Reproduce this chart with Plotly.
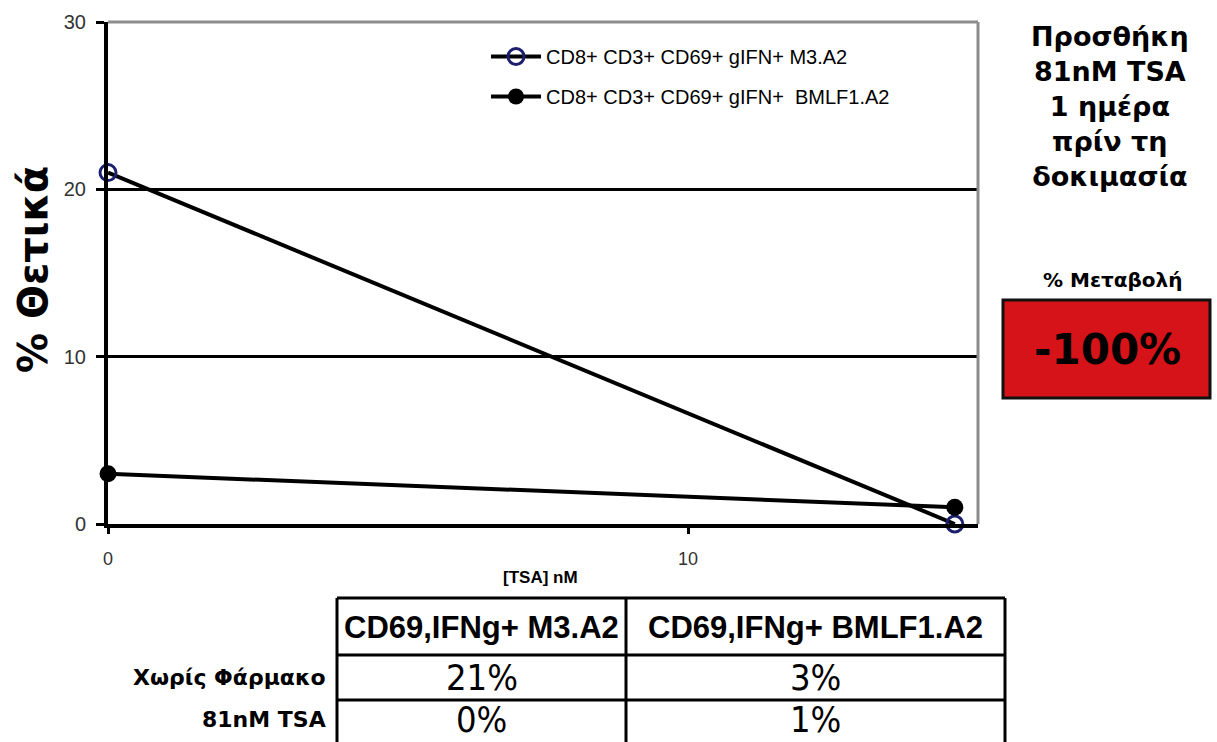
import plotly.graph_objects as go

# --- data -------------------------------------------------------------
tsa_nm = [0, 14.6]                      # x positions of the two conditions
m3_pct = [21, 0]                        # CD8+ CD3+ CD69+ gIFN+ M3.A2
bmlf1_pct = [3, 1]                      # CD8+ CD3+ CD69+ gIFN+ BMLF1.A2
series_names = ["CD8+ CD3+ CD69+ gIFN+ M3.A2", "CD8+ CD3+ CD69+ gIFN+  BMLF1.A2"]
table_cols = ["CD69,IFNg+ M3.A2", "CD69,IFNg+ BMLF1.A2"]
table_rows = ["Χωρίς Φάρμακο", "81nM TSA"]
y_ticks = [0, 10, 20, 30]
x_ticks = [0, 10]

change_pct = round((m3_pct[1] - m3_pct[0]) / m3_pct[0] * 100)

# --- page geometry -----------------------------------------------------
W, H = 1217, 742
L, R, T, B = 108, 239, 22, 218
PW, PH = W - L - R, H - T - B


def px(x):
    return (x - L) / PW


def py(y):
    return (H - B - y) / PH


ARIAL = "Liberation Sans, Arial, sans-serif"
VERD = "DejaVu Sans, Verdana, sans-serif"
NARROW = "Liberation Sans Narrow, Arial Narrow, Liberation Sans, sans-serif"
COND = "DejaVu Sans Condensed, DejaVu Sans, sans-serif"


def label(text, x, y, family, size, bold=False, **kw):
    opts = dict(text=text, xref="paper", yref="paper", x=px(x), y=py(y),
                xanchor="center", yanchor="middle", showarrow=False,
                font=dict(family=family, size=size, color="black",
                          weight="bold" if bold else "normal"))
    opts.update(kw)
    return opts


fig = go.Figure()
fig.add_trace(go.Scatter(
    x=tsa_nm, y=m3_pct, name=series_names[0], mode="lines+markers", cliponaxis=False,
    line=dict(color="black", width=4),
    marker=dict(symbol="circle-open", size=16, color="#1b1f6e", line=dict(width=3, color="#1b1f6e")),
    legendgroup="a",
))
fig.add_trace(go.Scatter(
    x=tsa_nm, y=bmlf1_pct, name=series_names[1], mode="lines+markers", cliponaxis=False,
    line=dict(color="black", width=4),
    marker=dict(symbol="circle", size=17, color="black"),
    legendgroup="b",
))

shapes = [
    # gray top and right frame of the plot area
    dict(type="line", xref="paper", yref="paper", x0=0, x1=1, y0=1, y1=1,
         line=dict(color="#8c8c8c", width=3), layer="above"),
    dict(type="line", xref="paper", yref="paper", x0=1, x1=1, y0=0, y1=1,
         line=dict(color="#8c8c8c", width=3), layer="above"),
    # red change box
    dict(type="rect", xref="paper", yref="paper", x0=px(1003), x1=px(1210), y0=py(398), y1=py(300),
         fillcolor="#d7131a", line=dict(color="#111", width=3)),
]

# table grid
tx = [337, 626, 1005]
ty = [598, 655, 700, 748]
for x in tx:
    shapes.append(dict(type="line", xref="paper", yref="paper", x0=px(x), x1=px(x), y0=py(ty[0]), y1=py(ty[-1]),
                       line=dict(color="black", width=3)))
for y in ty[:-1]:
    shapes.append(dict(type="line", xref="paper", yref="paper", x0=px(tx[0]), x1=px(tx[-1]), y0=py(y), y1=py(y),
                       line=dict(color="black", width=3)))

annotations = [
    label("% Θετικά", 33, 270, VERD, 40, bold=True, textangle=-90),
    label("[TSA] nM", 540, 577, ARIAL, 17, bold=True),
    label("Προσθήκη<br>81nM TSA<br>1 ημέρα<br>πρίν τη<br>δοκιμασία", 1110, 107, VERD, 27, bold=True),
    label("% Μεταβολή", 1113, 280, VERD, 20, bold=True),
    label(f"{change_pct}%", 1107, 349, VERD, 42, bold=True),
]

# table header and body
row_y = [677, 719]
for i, col in enumerate(table_cols):
    cx = (tx[i] + tx[i + 1]) / 2
    annotations.append(label(col, cx, 627, NARROW, 31, bold=True))
    vals = m3_pct if i == 0 else bmlf1_pct
    for j, v in enumerate(vals):
        annotations.append(label(f"{v}%", cx, row_y[j], COND, 36))
for j, lab in enumerate(table_rows):
    annotations.append(label(lab, 328, row_y[j], VERD, 22, bold=True, xanchor="right"))

fig.update_layout(
    width=W, height=H, margin=dict(l=L, r=R, t=T, b=B),
    paper_bgcolor="white", plot_bgcolor="white",
    showlegend=True,
    legend=dict(x=px(486), y=py(37), xanchor="left", yanchor="top", bgcolor="rgba(0,0,0,0)",
                font=dict(family=ARIAL, size=20, color="black"), traceorder="grouped",
                tracegroupgap=11, itemwidth=50),
    xaxis=dict(range=[0, 15], tickvals=x_ticks, showgrid=False, zeroline=False,
               showline=True, linecolor="black", linewidth=4,
               ticks="outside", ticklen=6, tickwidth=3, tickcolor="black", ticklabelstandoff=9,
               tickfont=dict(family=ARIAL, size=18, color="#333")),
    yaxis=dict(range=[0, 30], tickvals=y_ticks, showgrid=True, gridcolor="black", gridwidth=3,
               zeroline=False, showline=True, linecolor="black", linewidth=4,
               ticks="outside", ticklen=8, tickwidth=3, tickcolor="black", ticklabelstandoff=6,
               tickfont=dict(family=ARIAL, size=20, color="#333")),
    shapes=shapes, annotations=annotations,
)

fig.write_html("out.html")
